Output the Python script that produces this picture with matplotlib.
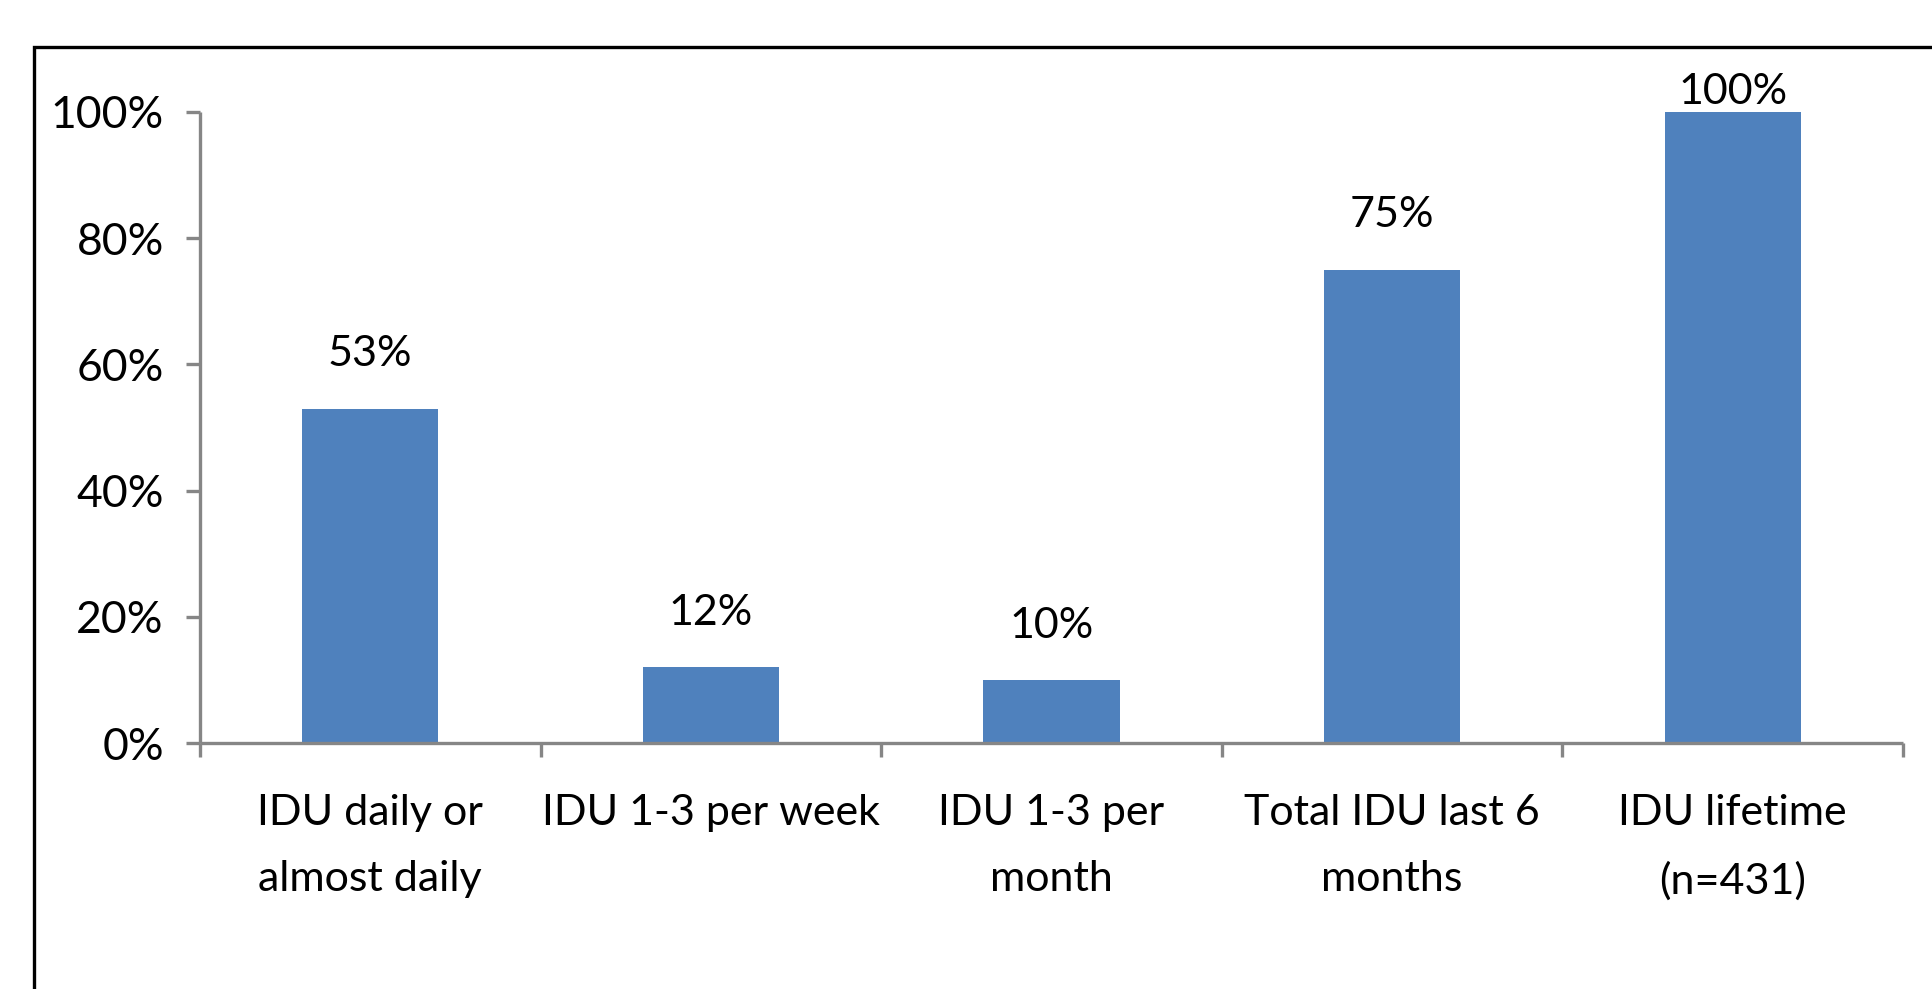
import matplotlib
matplotlib.use("Agg")
import matplotlib.pyplot as plt
from matplotlib.patches import Rectangle
from matplotlib.ticker import FixedLocator, PercentFormatter

categories = ["IDU daily or\nalmost daily", "IDU 1-3 per week", "IDU 1-3 per\nmonth",
              "Total IDU last 6\nmonths", "IDU lifetime\n(n=431)"]
values = [0.53, 0.12, 0.10, 0.75, 1.00]
labels = ["53%", "12%", "10%", "75%", "100%"]
yticks = [0.0, 0.2, 0.4, 0.6, 0.8, 1.0]

plt.rcParams['font.family'] = ['Lato', 'DejaVu Sans']

bar_color = "#4F81BD"
axis_color = "#868686"

fig = plt.figure(figsize=(19.32, 9.89), dpi=100)
ax = fig.add_axes([0.1035, 0.2487, 0.8815, 0.6381])

x = list(range(len(categories)))
ax.bar(x, values, width=0.4, color=bar_color, zorder=2)

ax.set_xlim(-0.5, len(categories) - 0.5)
ax.set_ylim(0, 1.0)

for xi, v, lab in zip(x, values, labels):
    ax.text(xi, min(v + 0.086, 1.032), lab, ha='center', va='center',
            fontsize=31, color='black', clip_on=False)

# spines
for s in ['top', 'right']:
    ax.spines[s].set_visible(False)
for s in ['left', 'bottom']:
    ax.spines[s].set_color(axis_color)
    ax.spines[s].set_linewidth(2.4)
    ax.spines[s].set_capstyle('butt')

ax.yaxis.set_major_locator(FixedLocator(yticks))
ax.yaxis.set_major_formatter(PercentFormatter(1.0, decimals=0))
ax.tick_params(axis='y', direction='out', length=10, width=2.4, color=axis_color,
               labelsize=32, pad=16)

ax.set_xticks(x)
ax.set_xticklabels(categories, linespacing=1.9)
ax.set_xticks([i - 0.5 for i in range(len(categories) + 1)], minor=True)
ax.tick_params(axis='x', which='major', length=0, labelsize=31, pad=37)
ax.tick_params(axis='x', which='minor', direction='out', length=10, width=2.4,
               color=axis_color)

# outer chart border (cut off at right and bottom like the source)
fig.patches.append(Rectangle((34 / 1932, -0.1), 1.2, 1 - 47 / 989 + 0.1,
                             transform=fig.transFigure, fill=False,
                             edgecolor='black', linewidth=2.4))

fig.savefig("out.png", dpi=100)
